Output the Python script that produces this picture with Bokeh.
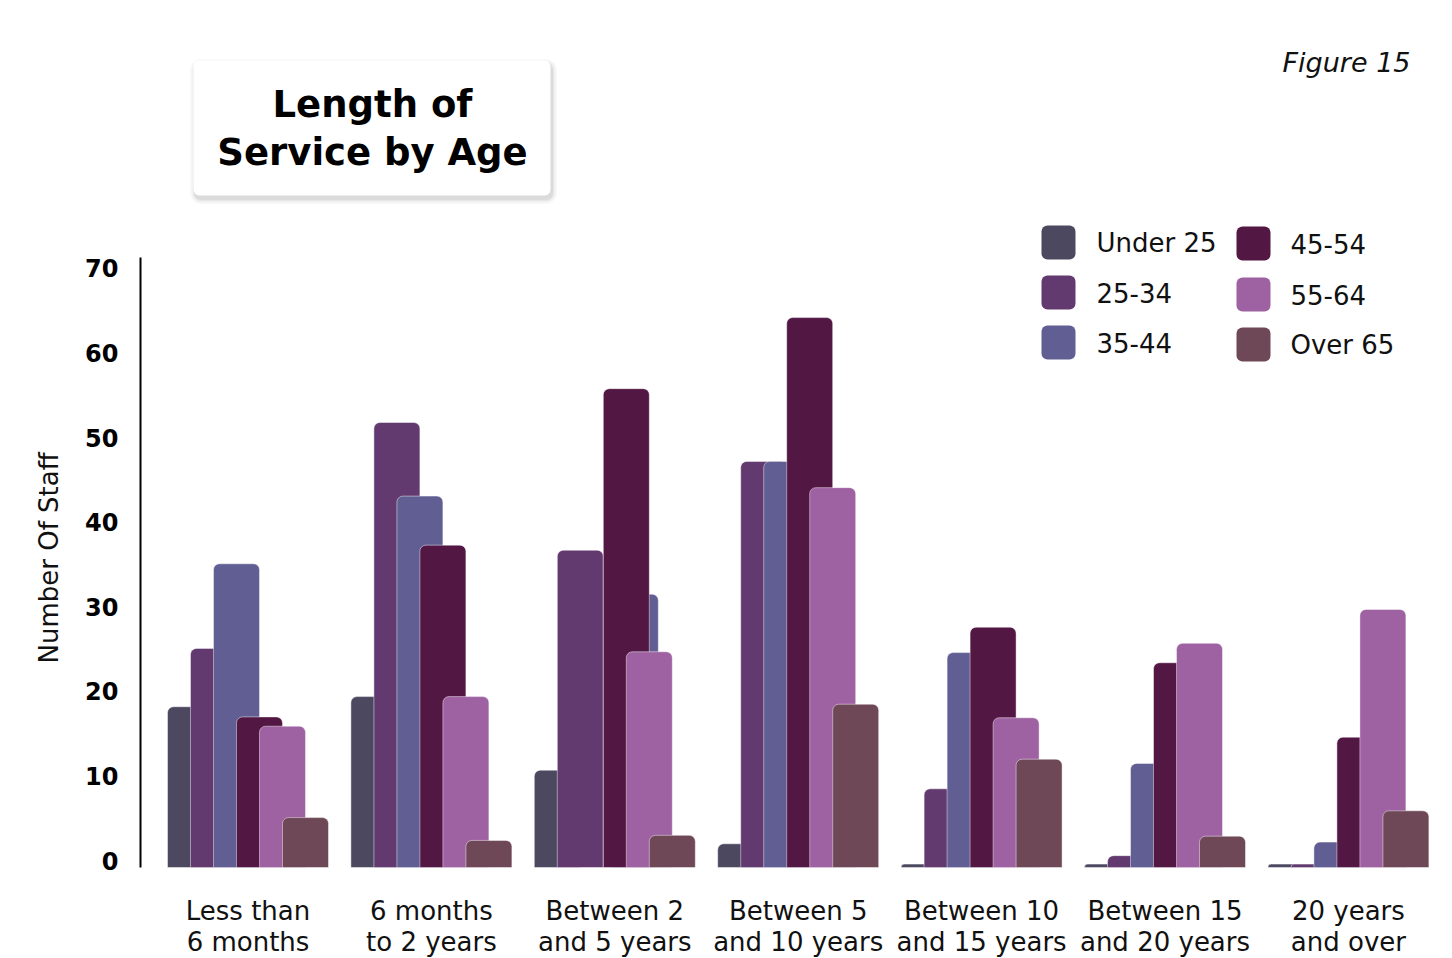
from bokeh.plotting import figure
from bokeh.models import Range1d, FixedTicker, PrintfTickFormatter, Title
from bokeh.core.properties import value
from bokeh.embed import file_html
from bokeh.resources import INLINE

# ---------------- data ----------------
categories = [
    "Less than\n6 months",
    "6 months\nto 2 years",
    "Between 2\nand 5 years",
    "Between 5\nand 10 years",
    "Between 10\nand 15 years",
    "Between 15\nand 20 years",
    "20 years\nand over",
]
age_groups = ["Under 25", "25-34", "35-44", "45-54", "55-64", "Over 65"]

under_25 = [19.0, 20.2, 11.5, 2.8, 0.4, 0.4, 0.4]
age_25_34 = [25.9, 52.6, 37.5, 48.0, 9.3, 1.4, 0.4]
age_35_44 = [35.9, 43.9, 32.3, 48.0, 25.4, 12.3, 3.0]
age_45_54 = [17.8, 38.1, 56.6, 65.0, 28.4, 24.2, 15.4]
age_55_64 = [16.7, 20.2, 25.5, 44.9, 17.7, 26.5, 30.5]
over_65 = [5.9, 3.2, 3.8, 19.3, 12.8, 3.7, 6.7]

y_ticks = [0, 10, 20, 30, 40, 50, 60, 70]

colors = ["#4b4860", "#633a70", "#605e93", "#521743", "#9e61a2", "#6e4856"]

title_text = "Length of\nService by Age"
figure_note = "Figure 15"
y_title = "Number Of Staff"

series = [under_25, age_25_34, age_35_44, age_45_54, age_55_64, over_65]

# ---------------- layout (pixels) ----------------
W, H = 1452, 958
FRAME_LEFT = 140
GROUP_PX = 183.4
FIRST_CENTER_PX = 247.5
BASE_PX = 867.0
UNIT_PX = 8.46
BAR_PX = 46.0
STEP_PX = 23.0
LABEL_LIFT_PX = 7.0   # tick labels sit slightly above their gridline value
Y_TITLE_START_PX = 663  # where the rotated axis title begins (its lower end)

x_start = 0.5 - (FIRST_CENTER_PX - FRAME_LEFT) / GROUP_PX
x_end = x_start + (W - FRAME_LEFT) / GROUP_PX
y_end = BASE_PX / UNIT_PX
y_start = -(H - BASE_PX) / UNIT_PX


def dx(px):
    return x_start + (px - FRAME_LEFT) / GROUP_PX


def dy(py):
    return (BASE_PX - py) / UNIT_PX


FONT = value("DejaVu Sans")

p = figure(
    width=W, height=H,
    x_range=Range1d(x_start, x_end), y_range=Range1d(y_start, y_end),
    output_backend="svg", toolbar_location=None,
    x_axis_location=None,
    min_border_left=FRAME_LEFT, min_border_right=0,
    min_border_top=0, min_border_bottom=0,
    outline_line_color=None,
)
p.grid.visible = False
p.background_fill_color = "white"
p.border_fill_color = "white"

# ---------------- y axis ----------------
lift = LABEL_LIFT_PX / UNIT_PX
ax = p.yaxis[0]
ax.ticker = FixedTicker(ticks=[t + lift for t in y_ticks])
ax.formatter = PrintfTickFormatter(format="%d")
ax.bounds = (0, dy(257))
ax.major_tick_line_color = None
ax.minor_tick_line_color = None
ax.axis_line_color = "black"
ax.axis_line_width = 2
ax.major_label_text_font = "DejaVu Sans"
ax.major_label_text_font_style = "bold"
ax.major_label_text_font_size = "24px"
ax.major_label_text_color = "black"
ax.major_label_standoff = 16

# vertical axis title, placed in the left panel and shifted to the reference position
p.add_layout(Title(text=y_title, align="left", offset=H - Y_TITLE_START_PX,
                   text_font="DejaVu Sans", text_font_style="normal",
                   text_font_size="26px", text_color="#111111", standoff=37), "left")

# ---------------- bars ----------------
bw = BAR_PX / GROUP_PX
step = STEP_PX / GROUP_PX
# one bar in the reference is drawn displaced to the right (35-44, "Between 2 and 5 years")
shifted = {(2, 2): 32.0 / GROUP_PX}

for k, (vals, col) in enumerate(zip(series, colors)):
    xs = [i + 0.5 + (k - 2.5) * step + shifted.get((k, i), 0.0) for i in range(len(categories))]
    p.vbar(x=xs, top=vals, bottom=0, width=bw, fill_color=col,
           line_color="white", line_alpha=0.45, line_width=1,
           border_radius=(6, 6, 0, 0))

# ---------------- x category labels ----------------
p.text(x=[i + 0.5 for i in range(len(categories))], y=[dy(926)] * len(categories),
       text=categories, text_font=FONT, text_font_size="26px",
       text_align="center", text_baseline="middle", text_line_height=1.05,
       text_color="#111111")

# ---------------- title box ----------------
for s, a in [(10, 0.025), (7, 0.03), (4, 0.04), (2, 0.05)]:
    p.rect(x=[dx(373)], y=[dy(131)], width=357 + s, height=135 + s,
           width_units="screen", height_units="screen",
           fill_color="black", fill_alpha=a, line_color=None,
           border_radius=int(6 + s / 2))
p.rect(x=[dx(371.5)], y=[dy(127.5)], width=357, height=135,
       width_units="screen", height_units="screen",
       fill_color="white", line_color=None, border_radius=6)
p.text(x=[dx(372)], y=[dy(128)], text=[title_text], text_font=FONT,
       text_font_style="bold", text_font_size="37px", text_align="center",
       text_baseline="middle", text_line_height=1.12, text_color="black")

# ---------------- figure note ----------------
p.text(x=[dx(1410)], y=[dy(62)], text=[figure_note], text_font=FONT,
       text_font_style="italic", text_font_size="27px", text_align="right",
       text_baseline="middle", text_color="#111111")

# ---------------- legend ----------------
col_sq = [1058, 1058, 1058, 1253, 1253, 1253]
col_tx = [1096, 1096, 1096, 1290, 1290, 1290]
rows = [242, 292, 342, 243, 294, 344]
p.rect(x=[dx(v) for v in col_sq], y=[dy(v) for v in rows], width=34, height=34,
       width_units="screen", height_units="screen", fill_color=colors,
       line_color=None, border_radius=6)
p.text(x=[dx(v) for v in col_tx], y=[dy(v) for v in rows], text=age_groups,
       text_font=FONT, text_font_size="26px", text_align="left",
       text_baseline="middle", text_color="#111111")

open("out.html", "w").write(file_html(p, INLINE, title="Length of Service by Age"))
